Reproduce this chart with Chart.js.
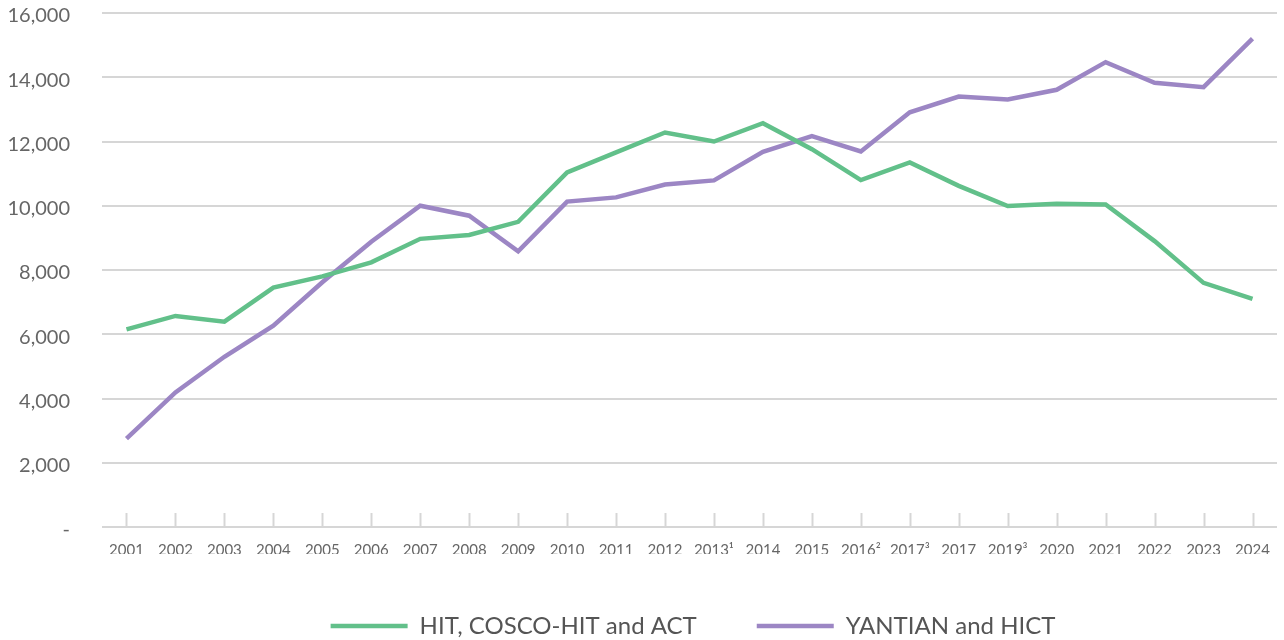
<!DOCTYPE html>
<html>
<head>
<meta charset="utf-8">
<script src="https://cdn.jsdelivr.net/npm/chart.js@4.4.1/dist/chart.umd.min.js"></script>
<style>
  html, body { margin: 0; padding: 0; background: #fff; }
  #wrap { width: 1284px; height: 640px; position: relative; }
</style>
</head>
<body>
<div id="wrap"><canvas id="myChart"></canvas></div>
<script>
const years = [
  "2001", "2002", "2003", "2004", "2005", "2006", "2007", "2008", "2009", "2010",
  "2011", "2012", "2013\u00B9", "2014", "2015", "2016\u00B2", "2017\u00B3", "2017",
  "2019\u00B3", "2020", "2021", "2022", "2023", "2024",
];
const hitCoscoAct = [
  6150, 6570, 6390, 7450, 7800, 8240, 8970, 9090, 9500, 11040,
  11660, 12280, 12000, 12570, 11760, 10800, 11350, 10620,
  9990, 10060, 10040, 8900, 7600, 7100,
];
const yantianHict = [
  2750, 4190, 5300, 6270, 7620, 8880, 10000, 9690, 8580, 10130,
  10260, 10660, 10790, 11680, 12170, 11690, 12910, 13400,
  13310, 13610, 14470, 13830, 13690, 15200,
];
const yTicks = [0, 2000, 4000, 6000, 8000, 10000, 12000, 14000, 16000];

const GREEN = "rgb(98,192,138)";
const PURPLE = "rgb(156,134,196)";
const GRID = "#d6d6d6";
const FONT = "Lato, 'Open Sans', sans-serif";

// small tick marks standing up from the baseline
const upTicks = {
  id: "upTicks",
  beforeDatasetsDraw(chart) {
    const { ctx, chartArea, scales } = chart;
    const x = scales.x;
    ctx.save();
    ctx.strokeStyle = GRID;
    ctx.lineWidth = 2;
    for (let i = 0; i < years.length; i++) {
      const px = Math.round(x.getPixelForTick(i)) + 0.5;
      ctx.beginPath();
      ctx.moveTo(px, chartArea.bottom - 14);
      ctx.lineTo(px, chartArea.bottom);
      ctx.stroke();
    }
    ctx.restore();
  },
};

// fixed room for the legend, and push it a bit to the right
const legendRoom = {
  id: "legendRoom",
  beforeInit(chart) {
    const fit = chart.legend.fit;
    chart.legend.fit = function () {
      fit.bind(chart.legend)();
      this.height = 86;
    };
  },
  afterLayout(chart) {
    chart.legend.left += 53;
    chart.legend.right += 53;
  },
};

const ctx = document.getElementById("myChart").getContext("2d");
new Chart(ctx, {
  type: "line",
  data: {
    labels: years,
    datasets: [
      {
        label: "HIT, COSCO-HIT and ACT",
        data: hitCoscoAct,
        borderColor: GREEN,
        backgroundColor: GREEN,
        borderWidth: 4.5,
        pointRadius: 0,
        tension: 0,
      },
      {
        label: "YANTIAN and HICT",
        data: yantianHict,
        borderColor: PURPLE,
        backgroundColor: PURPLE,
        borderWidth: 4.5,
        pointRadius: 0,
        tension: 0,
      },
    ],
  },
  options: {
    responsive: true,
    maintainAspectRatio: false,
    animation: false,
    layout: { padding: { top: 13, right: 4, left: 0, bottom: 0 } },
    scales: {
      x: {
        type: "category",
        offset: true,
        afterFit(scale) { scale.height = 27; },
        grid: { display: false, drawTicks: false },
        border: { display: false },
        ticks: {
          color: "#666",
          font: { family: FONT, size: 15 },
          padding: 14,
          autoSkip: false,
          maxRotation: 0,
        },
      },
      y: {
        min: 0,
        max: 16000,
        afterFit(scale) { scale.width = 102; },
        afterBuildTicks(scale) { scale.ticks = yTicks.map((v) => ({ value: v })); },
        grid: {
          color: GRID,
          lineWidth: 2,
          drawTicks: true,
          tickLength: 32,
          tickColor: "rgba(0,0,0,0)",
        },
        border: { display: false },
        ticks: {
          color: "#666",
          font: { family: FONT, size: 20 },
          padding: 0,
          labelOffset: 3,
          callback: (v) => (v === 0 ? "-" : v.toLocaleString("en-US")),
        },
      },
    },
    plugins: {
      legend: {
        display: true,
        position: "bottom",
        labels: {
          usePointStyle: true,
          pointStyle: "line",
          pointStyleWidth: 77,
          color: "#555",
          font: { family: FONT, size: 24 },
          padding: 60,
        },
      },
      tooltip: { enabled: false },
    },
  },
  plugins: [upTicks, legendRoom],
});
</script>
</body>
</html>
